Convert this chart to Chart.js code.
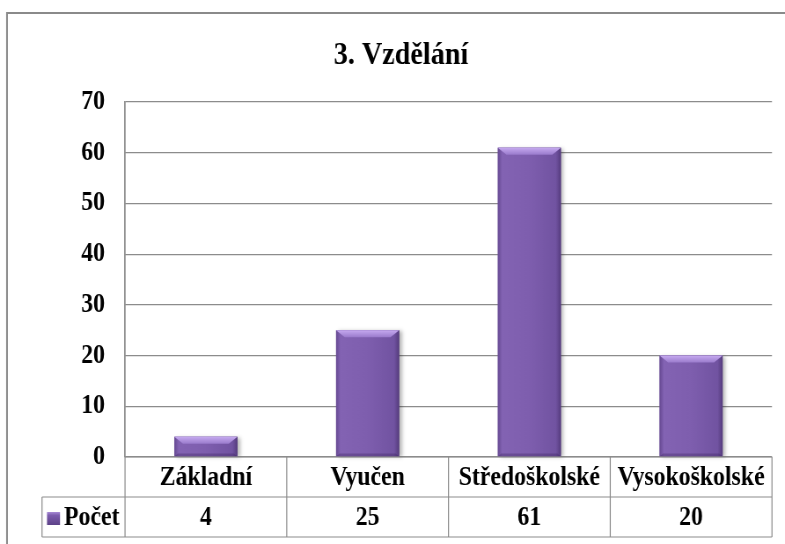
<!DOCTYPE html>
<html>
<head>
<meta charset="utf-8">
<script src="https://cdn.jsdelivr.net/npm/chart.js@4"></script>
<style>
html,body{margin:0;padding:0;background:#fff;overflow:hidden;}
#wrap{position:absolute;left:0;top:0;height:544px;transform-origin:0 0;}
</style>
</head>
<body>
<div id="wrap"><canvas id="eduChart"></canvas></div>
<script>
// DATA
const categories = ["Základní", "Vyučen", "Středoškolské", "Vysokoškolské"];
const counts = [4, 25, 61, 20];
const seriesName = "Počet";
const chartTitle = "3. Vzdělání";
const yMax = 70;
const yStep = 10;

// the reference text is squeezed sideways, so draw wider and squeeze the whole canvas
const SX = 0.88;
const W = 785 / SX;
const X = v => v / SX;

const wrap = document.getElementById("wrap");
wrap.style.width = W + "px";
wrap.style.transform = "scaleX(" + SX + ")";
const canvas = document.getElementById("eduChart");
canvas.width = Math.round(W);
canvas.height = 544;

const FONT = "'Liberation Serif', 'Times New Roman', serif";
const LINE = "#8c8c8c";

// frame, title, bar bevels and the data table under the plot
const excelLook = {
  id: "excelLook",
  beforeDraw(chart) {
    const c = chart.ctx;
    c.save();
    c.fillStyle = "#fff";
    c.fillRect(0, 0, chart.width, chart.height);
    c.strokeStyle = "#8a8a8a";
    c.lineWidth = 2;
    c.strokeRect(X(7), 13, chart.width + 20, chart.height + 20);
    c.fillStyle = "#000";
    c.font = "bold 32px " + FONT;
    c.textAlign = "center";
    c.textBaseline = "alphabetic";
    c.fillText(chartTitle, X(401), 64);
    c.restore();
  },
  afterDatasetsDraw(chart) {
    const c = chart.ctx;
    const meta = chart.getDatasetMeta(0);
    meta.data.forEach(bar => {
      const l = bar.x - bar.width / 2, r = bar.x + bar.width / 2;
      const t = bar.y, b = bar.base;
      c.save();
      c.shadowColor = "rgba(0,0,0,0.28)";
      c.shadowOffsetX = 3;
      c.shadowOffsetY = 1;
      c.shadowBlur = 4;
      const g = c.createLinearGradient(l, 0, r, 0);
      g.addColorStop(0, "#654891");
      g.addColorStop(0.07, "#8363b3");
      g.addColorStop(0.5, "#7e5eae");
      g.addColorStop(0.92, "#7153a1");
      g.addColorStop(1, "#553b7d");
      c.fillStyle = g;
      c.fillRect(l, t, r - l, b - t);
      c.restore();
      // top bevel
      const bv = Math.min(7, (b - t) / 2);
      const tg = c.createLinearGradient(0, t, 0, t + bv);
      tg.addColorStop(0, "#c6aaf0");
      tg.addColorStop(1, "#9a7bcc");
      c.fillStyle = tg;
      c.beginPath();
      c.moveTo(l, t);
      c.lineTo(r, t);
      c.lineTo(r - bv * 1.4, t + bv);
      c.lineTo(l + bv * 1.4, t + bv);
      c.closePath();
      c.fill();
      // bottom shade
      c.fillStyle = "rgba(60,35,95,0.35)";
      c.beginPath();
      c.moveTo(l, b);
      c.lineTo(r, b);
      c.lineTo(r - 4, b - 3);
      c.lineTo(l + 4, b - 3);
      c.closePath();
      c.fill();
    });
  },
  afterDraw(chart) {
    const c = chart.ctx;
    const ca = chart.chartArea;
    const xs = chart.scales.x;
    const cw = (ca.right - ca.left) / categories.length;
    const r0 = ca.bottom, r1 = r0 + 40, r2 = r0 + 80;
    const tl = X(42);
    c.save();
    c.strokeStyle = LINE;
    c.lineWidth = 1.2;
    c.beginPath();
    c.moveTo(ca.left, r0); c.lineTo(ca.right, r0);
    c.moveTo(tl, r1); c.lineTo(ca.right, r1);
    c.moveTo(tl, r2); c.lineTo(ca.right, r2);
    c.moveTo(tl, r1); c.lineTo(tl, r2);
    c.moveTo(ca.left, ca.top); c.lineTo(ca.left, r2);
    categories.forEach((cat, i) => {
      const edge = xs.getPixelForValue(i) + cw / 2;
      c.moveTo(edge, r0); c.lineTo(edge, r2);
    });
    c.stroke();

    c.fillStyle = "#000";
    c.font = "bold 27px " + FONT;
    c.textAlign = "center";
    c.textBaseline = "middle";
    categories.forEach((cat, i) => {
      const cx = xs.getPixelForValue(i);
      c.fillText(cat, cx, r0 + 21);
      c.fillText(String(counts[i]), cx, r1 + 21);
    });
    // legend key
    const kg = c.createLinearGradient(0, r1 + 15, 0, r1 + 28);
    kg.addColorStop(0, "#a88bd6");
    kg.addColorStop(0.25, "#7d5dae");
    kg.addColorStop(1, "#5c4187");
    c.fillStyle = kg;
    c.fillRect(X(47), r1 + 15, X(13), 13);
    c.fillStyle = "#000";
    c.textAlign = "left";
    c.fillText(seriesName, X(64), r1 + 21);
    c.restore();
  }
};

function draw() {
  new Chart(canvas, {
    type: "bar",
    data: {
      labels: categories,
      datasets: [{
        label: seriesName,
        data: counts,
        backgroundColor: "#7e5eae",
        borderWidth: 0,
        categoryPercentage: 1,
        barPercentage: 0.39
      }]
    },
    options: {
      responsive: false,
      animation: false,
      events: [],
      layout: {
        padding: { top: 102, bottom: 87, left: 0, right: W - X(772) }
      },
      plugins: {
        legend: { display: false },
        tooltip: { enabled: false },
        title: { display: false }
      },
      scales: {
        x: { display: false },
        y: {
          min: 0,
          max: yMax,
          afterFit: s => { s.width = X(125); },
          border: { display: true, color: LINE, width: 1.2 },
          grid: { color: LINE, lineWidth: 1.2, drawTicks: false },
          ticks: {
            stepSize: yStep,
            padding: X(20),
            color: "#000",
            font: { family: FONT, size: 27, weight: "bold" }
          }
        }
      }
    },
    plugins: [excelLook]
  });
}

if (document.fonts && document.fonts.load) {
  document.fonts.load("bold 27px 'Liberation Serif'").then(draw, draw);
} else {
  draw();
}
</script>
</body>
</html>
